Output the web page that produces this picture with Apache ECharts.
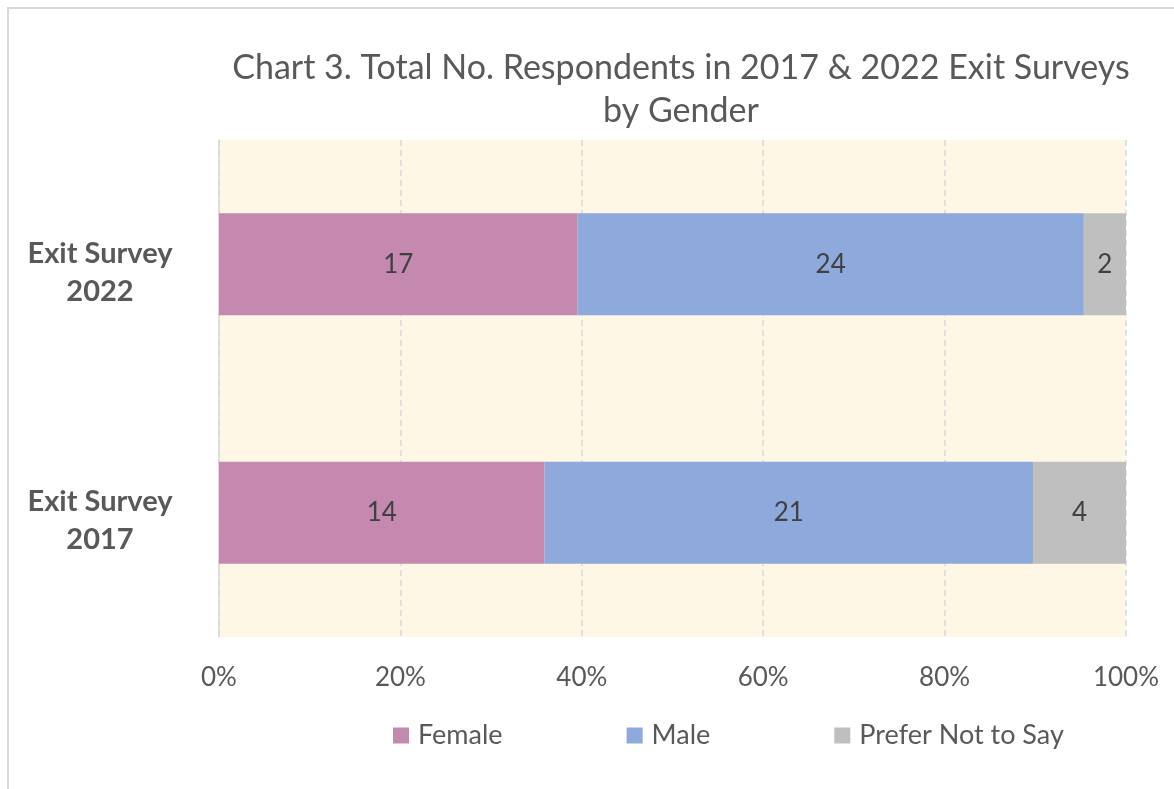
<!DOCTYPE html>
<html>
<head>
<meta charset="utf-8">
<script src="https://cdn.jsdelivr.net/npm/echarts@6/dist/echarts.min.js"></script>
<style>
  html, body { margin: 0; padding: 0; background: #fff; overflow: hidden; }
  #frame { position: absolute; left: 7px; top: 7px; width: 1300px; height: 900px; border: 2px solid #D9D9D9; box-sizing: border-box; }
  #main { position: absolute; left: 0; top: 0; width: 1174px; height: 789px; }
</style>
</head>
<body>
<div id="frame"></div>
<div id="main"></div>
<script type="text/javascript">
  // data
  var categories = ['Exit Survey\n2017', 'Exit Survey\n2022'];
  var female = [14, 17];
  var male = [21, 24];
  var preferNot = [4, 2];
  var xTicks = ['0%', '20%', '40%', '60%', '80%', '100%'];

  var totals = categories.map(function (c, i) { return female[i] + male[i] + preferNot[i]; });
  function pct(arr) {
    return arr.map(function (v, i) { return { value: v / totals[i] * 100, count: v }; });
  }

  var myChart = echarts.init(document.getElementById('main'));
  var font = 'Lato, "Open Sans", sans-serif';

  function barSeries(name, arr, color) {
    return {
      name: name,
      type: 'bar',
      stack: 'total',
      barCategoryGap: '59%',
      data: pct(arr),
      itemStyle: { color: color },
      label: {
        show: true,
        position: 'inside',
        formatter: function (p) { return p.data.count; },
        color: '#404040',
        fontFamily: font,
        fontSize: 26
      }
    };
  }

  var option = {
    animation: false,
    textStyle: { fontFamily: font },
    title: {
      text: 'Chart 3. Total No. Respondents in 2017 & 2022 Exit Surveys\nby Gender',
      left: 676,
      top: 42,
      textAlign: 'center',
      textStyle: { fontFamily: font, fontSize: 34, fontWeight: 'normal', color: '#595959', lineHeight: 43 }
    },
    grid: {
      left: 219, right: 48, top: 140, bottom: 152,
      show: true, backgroundColor: '#FFF7E6', borderWidth: 0
    },
    legend: {
      bottom: 35,
      left: 388,
      itemWidth: 16,
      itemHeight: 16,
      itemGap: 124,
      icon: 'rect',
      textStyle: { fontFamily: font, fontSize: 27, color: '#595959', padding: [0, 0, 0, 4] },
      data: ['Female', 'Male', 'Prefer Not to Say']
    },
    xAxis: {
      type: 'value',
      min: 0, max: 100, interval: 20,
      axisLine: { show: false },
      axisTick: { show: false },
      splitLine: { show: true, lineStyle: { color: '#D9D9D9', type: [6, 4], width: 1.5 } },
      axisLabel: {
        margin: 28,
        color: '#595959',
        fontSize: 26,
        fontFamily: font,
        formatter: function (v) { return xTicks[Math.round(v / 20)]; }
      }
    },
    yAxis: {
      type: 'category',
      data: categories,
      axisLine: { show: true, lineStyle: { color: '#D9D9D9', width: 1.5 } },
      axisTick: { show: false },
      axisLabel: {
        margin: 119,
        align: 'center',
        color: '#595959',
        fontSize: 29,
        fontWeight: 'bold',
        fontFamily: font,
        lineHeight: 38,
        // small spacer line on top nudges the two-line label down a bit
        formatter: function (v) { return '{s|}\n' + v; },
        rich: { s: { lineHeight: 16, fontSize: 1 } }
      }
    },
    series: [
      barSeries('Female', female, '#C589B0'),
      barSeries('Male', male, '#8EA9DB'),
      barSeries('Prefer Not to Say', preferNot, '#BFBFBF')
    ]
  };

  myChart.setOption(option);
</script>
</body>
</html>
